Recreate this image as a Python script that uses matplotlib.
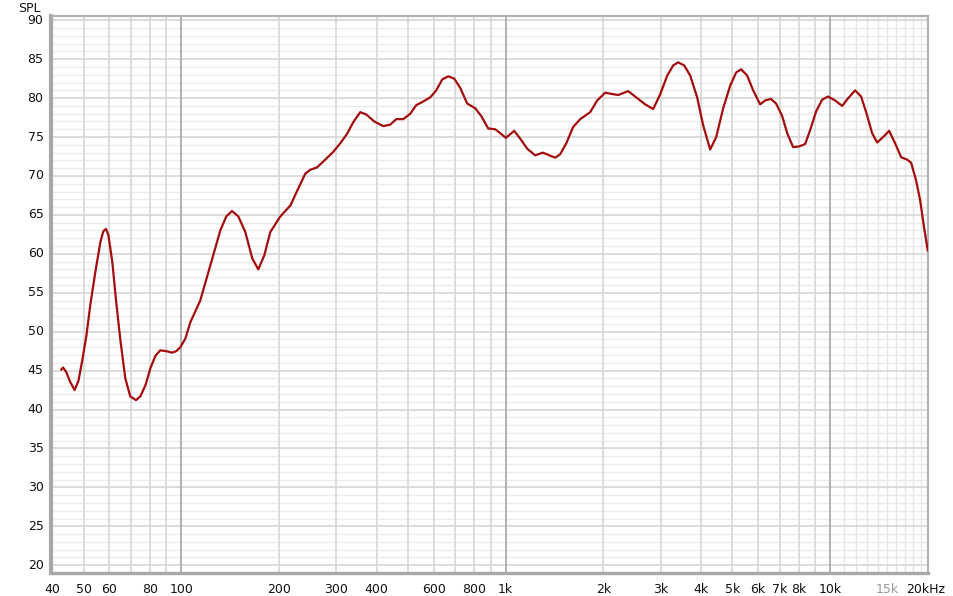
import matplotlib
matplotlib.use("Agg")
import matplotlib.pyplot as plt

# ---- data ----
freq_hz = [42.6, 43.2, 44.2, 45.5, 46.9, 48.2, 49.5, 51.0, 52.4, 54.3, 56.3, 57.5, 58.6, 59.6,
           61.3, 63.0, 64.9, 67.2, 69.6, 72.5, 74.8, 77.5, 80.3, 83.2, 86.1, 89.9, 93.6, 96.5,
           99.3, 102.9, 106.6, 114.4, 122.8, 131.9, 137.6, 143.3, 149.9, 157.5, 165.5, 172.7,
           180.2, 188.1, 201.9, 216.8, 229.4, 241.1, 249.8, 262.0, 277.8, 294.0, 309.0, 324.1,
           338.8, 356.1, 371.6, 393.4, 419.4, 440.7, 459.9, 483.2, 507.8, 530.0, 553.1, 585.3,
           610.8, 637.4, 665.1, 694.0, 724.3, 760.9, 805.4, 840.5, 883.3, 928.1, 961.6, 1001,
           1062, 1108, 1165, 1233, 1302, 1362, 1421, 1472, 1537, 1614, 1697, 1822, 1914, 2026,
           2114, 2222, 2385, 2525, 2691, 2848, 2994, 3147, 3283, 3401, 3549, 3704, 3891, 4061,
           4268, 4455, 4681, 4919, 5133, 5318, 5549, 5791, 6085, 6305, 6567, 6817, 7114, 7372,
           7691, 8028, 8375, 8677, 9056, 9447, 9858, 10360, 10890, 11370, 11940, 12460, 13000,
           13470, 13960, 14570, 15200, 15860, 16560, 17280, 17770, 18410, 18940, 19490, 20000]
spl_db = [45.1, 45.4, 44.8, 43.5, 42.5, 43.7, 46.3, 49.5, 53.4, 57.6, 61.5, 62.9, 63.2, 62.4,
          58.9, 53.8, 48.9, 44.0, 41.7, 41.2, 41.7, 43.1, 45.3, 46.9, 47.6, 47.5, 47.3, 47.5,
          48.0, 49.1, 51.2, 54.0, 58.5, 63.0, 64.8, 65.5, 64.8, 62.8, 59.4, 58.0,
          59.8, 62.8, 64.8, 66.2, 68.4, 70.3, 70.8, 71.1, 72.1, 73.1, 74.2, 75.4,
          76.9, 78.2, 77.9, 77.0, 76.4, 76.6, 77.3, 77.3, 78.0, 79.1, 79.5, 80.1,
          81.0, 82.4, 82.8, 82.5, 81.3, 79.3, 78.7, 77.7, 76.1, 76.0, 75.5, 74.9,
          75.8, 74.8, 73.5, 72.65, 73.0, 72.65, 72.35, 72.8, 74.2, 76.3, 77.3, 78.2, 79.7, 80.7,
          80.55, 80.4, 80.9, 80.1, 79.2, 78.6, 80.5, 82.9, 84.2, 84.6, 84.2, 82.9, 80.1, 76.5,
          73.4, 75.0, 78.7, 81.6, 83.3, 83.7, 82.9, 81.0, 79.2, 79.7, 79.9, 79.3, 77.7, 75.5,
          73.7, 73.8, 74.1, 75.9, 78.3, 79.8, 80.2, 79.7, 79.0, 80.0, 81.0, 80.2, 77.8,
          75.5, 74.3, 75.0, 75.8, 74.2, 72.4, 72.1, 71.7, 69.4, 66.9, 63.3, 60.4]

y_ticks = [20, 25, 30, 35, 40, 45, 50, 55, 60, 65, 70, 75, 80, 85, 90]
x_tick_pos = [40, 50, 60, 80, 100, 200, 300, 400, 600, 800, 1000, 2000, 3000, 4000,
              5000, 6000, 7000, 8000, 10000, 15000, 20000]
x_tick_lab = ["40", "50", "60", "80", "100", "200", "300", "400", "600", "800", "1k", "2k",
              "3k", "4k", "5k", "6k", "7k", "8k", "10k", "15k", "20kHz"]
x_grid = [50, 60, 70, 80, 90, 200, 300, 400, 500, 600, 700, 800, 900,
          2000, 3000, 4000, 5000, 6000, 7000, 8000, 9000]
x_grid_fine = [11000, 12000, 13000, 14000, 15000, 16000, 17000, 18000, 19000]
x_grid_decade = [100, 1000, 10000]

W, H = 954, 596
fig = plt.figure(figsize=(W / 100, H / 100), dpi=100)
fig.patch.set_facecolor("white")
L, R, T, B = 51.5, 928.5, 16, 573
ax = fig.add_axes([L / W, (H - B) / H, (R - L) / W, (B - T) / H])
ax.set_xscale("log")
ax.set_xlim(39.8, 20100)
ax.set_ylim(19.0, 90.55)

# horizontal grid
for v in range(19, 91):
    if v % 5 == 0:
        ax.axhline(v, color="#d6d6d6", lw=1.2, zorder=1)
    else:
        ax.axhline(v, color="#ebebeb", lw=1.0, zorder=0.5)
# vertical grid
for v in x_grid:
    ax.axvline(v, color="#d6d6d6", lw=1.2, zorder=1)
for v in x_grid_fine:
    ax.axvline(v, color="#e6e6e6", lw=1.0, zorder=0.8)
for v in x_grid_decade:
    ax.axvline(v, color="#ababab", lw=1.3, zorder=1.2)

ax.plot(freq_hz, spl_db, color="#a30d0d", lw=1.6, zorder=5, solid_capstyle="round",
        solid_joinstyle="round", antialiased=True)

ax.set_xticks([])
ax.set_yticks([])
ax.minorticks_off()
for s in ax.spines.values():
    s.set_color("#b3b3b3")
    s.set_linewidth(1.6)
ax.spines["left"].set_linewidth(3.0)
ax.spines["left"].set_color("#a8a8a8")
ax.spines["bottom"].set_linewidth(2.4)
ax.spines["bottom"].set_color("#a8a8a8")

fs = 9
for v in y_ticks:
    ax.text(-0.009, (v - 19.0) / (90.55 - 19.0), str(v), transform=ax.transAxes,
            ha="right", va="center", fontsize=fs, color="#111111")
for p, lab in zip(x_tick_pos, x_tick_lab):
    col = "#999999" if lab == "15k" else "#111111"
    ha = "center"
    xx = p
    if lab == "20kHz":
        ha = "left"
        xx = 17150
    ax.text(xx, -0.018, lab, transform=ax.get_xaxis_transform(), ha=ha, va="top",
            fontsize=fs, color=col)
fig.text(29 / W, 1 - 8 / H, "SPL", ha="center", va="center", fontsize=fs, color="#111111")

fig.savefig("out.png", dpi=100, facecolor="white")
